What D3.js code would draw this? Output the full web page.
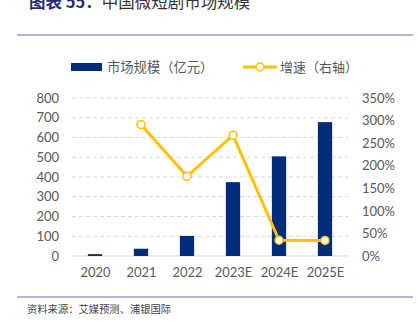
<!DOCTYPE html>
<html><head><meta charset="utf-8">
<script src="https://cdn.jsdelivr.net/npm/d3@7"></script>
<style>body{margin:0;background:#fff;}svg{display:block;}</style>
</head><body><svg id="c" width="417" height="322"></svg>
<script>
const categories = ["2020","2021","2022","2023E","2024E","2025E"];
const marketSize = [9.4, 36.8, 101.7, 373.9, 504.4, 677.9];
const growth = [null, 291.5, 176.4, 267.7, 34.9, 34.4];
const leftTicks = [0,100,200,300,400,500,600,700,800];
const rightTicks = [0,50,100,150,200,250,300,350];

const svg = d3.select("#c");
const navy = "#002D7A", gold = "#FFC000", grey = "#595959";
const cjk = "'Noto Sans CJK SC', sans-serif";
const num = "Lato, 'Open Sans', sans-serif";

// title (top of it is clipped by the frame, as in the reference)
const t = svg.append("text").attr("x",29).attr("y",7.5).attr("font-family",cjk).attr("font-size",16.5);
t.append("tspan").attr("fill","#1F2A78").attr("font-weight","bold").text("图表 55：");
t.append("tspan").attr("fill","#333").text("中国微短剧市场规模");

svg.append("line").attr("x1",17).attr("x2",413).attr("y1",35).attr("y2",35).attr("stroke","#9C9CC8").attr("stroke-width",1.5);
svg.append("line").attr("x1",17).attr("x2",413).attr("y1",297).attr("y2",297).attr("stroke","#9C9CC8").attr("stroke-width",1.5);
svg.append("text").attr("x",27).attr("y",312.5).attr("font-family",cjk).attr("font-size",10.3).attr("fill","#444").text("资料来源：艾媒预测、浦银国际");

const x = d3.scaleBand().domain(categories).range([72,348]).paddingInner(0.69).paddingOuter(0.345);
const xc = d3.scalePoint().domain(categories).range([72,348]).padding(0.5);
const yL = d3.scaleLinear().domain([0,800]).range([256,98]);
const yR = d3.scaleLinear().domain([0,350]).range([256,98]);

// grid
svg.append("g").selectAll("line").data(leftTicks.slice(1)).join("line")
  .attr("x1",72).attr("x2",348).attr("y1",d=>yL(d)).attr("y2",d=>yL(d))
  .attr("stroke","#D9D9D9").attr("stroke-dasharray","4,3");
svg.append("line").attr("x1",72).attr("x2",348).attr("y1",yL(0)).attr("y2",yL(0)).attr("stroke","#D9D9D9");

// axes
const gl = svg.append("g").attr("transform","translate(72,0)")
  .call(d3.axisLeft(yL).tickValues(leftTicks).tickSize(0).tickPadding(13));
const gr = svg.append("g").attr("transform","translate(348,0)")
  .call(d3.axisRight(yR).tickValues(rightTicks).tickSize(0).tickPadding(14).tickFormat(d=>d+"%"));
const gx = svg.append("g").attr("transform","translate(0,256)")
  .call(d3.axisBottom(xc).tickSize(0).tickPadding(12));
[gl,gr,gx].forEach(g=>{g.select(".domain").remove();
  g.selectAll("text").attr("font-family",num).attr("font-size",13).attr("fill",grey);});

// bars
svg.append("g").selectAll("rect").data(marketSize).join("rect")
  .attr("x",(d,i)=>x(categories[i])).attr("width",x.bandwidth())
  .attr("y",d=>yL(d)).attr("height",d=>yL(0)-yL(d)).attr("fill",navy);

// line
const pts = growth.map((g,i)=>({c:categories[i],g})).filter(d=>d.g!=null);
svg.append("path").datum(pts).attr("fill","none").attr("stroke",gold).attr("stroke-width",3)
  .attr("d",d3.line().x(d=>xc(d.c)).y(d=>yR(d.g)));
svg.append("g").selectAll("circle").data(pts).join("circle")
  .attr("cx",d=>xc(d.c)).attr("cy",d=>yR(d.g)).attr("r",4)
  .attr("fill","#fff").attr("stroke",gold).attr("stroke-width",1.5);

// legend
svg.append("rect").attr("x",71).attr("y",63).attr("width",31).attr("height",8).attr("fill",navy);
svg.append("text").attr("x",107).attr("y",72).attr("font-family",cjk).attr("font-size",13.3).attr("fill",grey).text("市场规模（亿元）");
svg.append("line").attr("x1",243).attr("x2",277).attr("y1",67).attr("y2",67).attr("stroke",gold).attr("stroke-width",3);
svg.append("circle").attr("cx",260).attr("cy",67).attr("r",4).attr("fill","#fff").attr("stroke",gold).attr("stroke-width",1.5);
svg.append("text").attr("x",280).attr("y",72).attr("font-family",cjk).attr("font-size",13).attr("fill",grey).text("增速（右轴）");
</script></body></html>
